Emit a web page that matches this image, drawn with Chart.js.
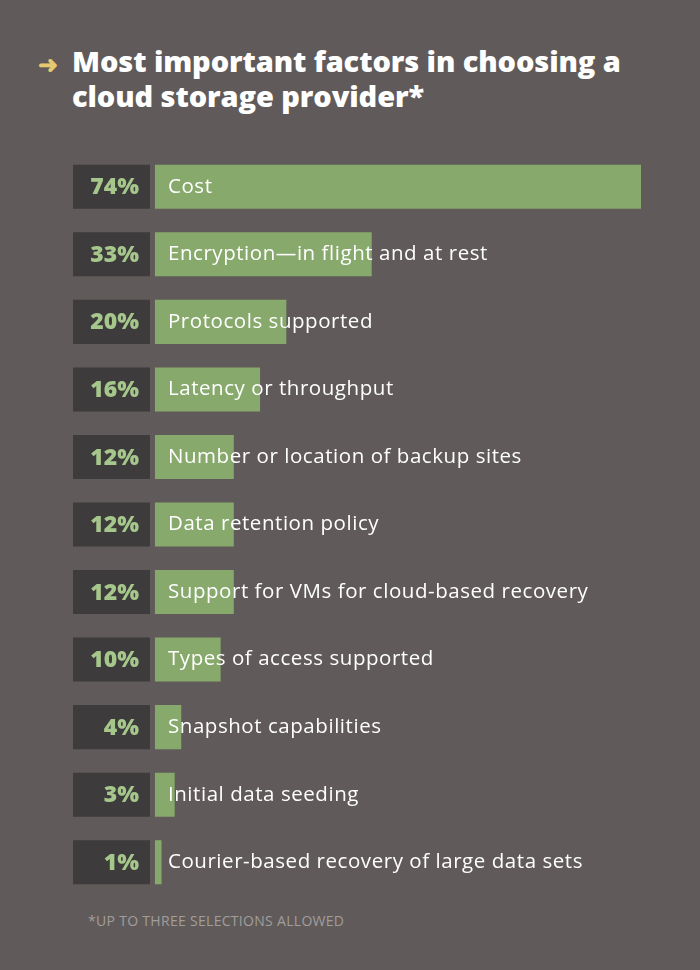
<!DOCTYPE html>
<html>
<head>
<meta charset="utf-8">
<script src="https://cdn.jsdelivr.net/npm/chart.js@4"></script>
<style>
    html, body { margin: 0; padding: 0; }
    body { width: 700px; height: 970px; background: #605b5a; position: relative; overflow: hidden; font-family: "Open Sans", sans-serif; }
    .titre { position: absolute; left: 72px; top: 43px; color: #ffffff; font-weight: 800; font-size: 29px; line-height: 35px; letter-spacing: -0.1px; }
    .fleche { position: absolute; left: 38px; top: 47px; color: #e6c96f; font-size: 24px; font-weight: 700; }
    .graphique { position: absolute; left: 0; top: 153px; width: 700px; height: 743px; }
    .note { position: absolute; left: 88px; top: 911px; color: #a29d9b; font-size: 14px; letter-spacing: 0.3px; }
</style>
</head>
<body>
<div class="fleche">&#10140;</div>
<div class="titre">Most important factors in choosing a<br>cloud storage provider*</div>
<div class="graphique"><canvas id="graphique-facteurs"></canvas></div>
<div class="note">*UP TO THREE SELECTIONS ALLOWED</div>
<script>
// Données
const facteurs = [
    "Cost",
    "Encryption\u2014in flight and at rest",
    "Protocols supported",
    "Latency or throughput",
    "Number or location of backup sites",
    "Data retention policy",
    "Support for VMs for cloud-based recovery",
    "Types of access supported",
    "Snapshot capabilities",
    "Initial data seeding",
    "Courier-based recovery of large data sets"
];
const pourcentages = [74, 33, 20, 16, 12, 12, 12, 10, 4, 3, 1];
const etiquettes = ["74%", "33%", "20%", "16%", "12%", "12%", "12%", "10%", "4%", "3%", "1%"];

// Case sombre à gauche de chaque barre (barre flottante)
const caseDebut = -12.48;
const caseFin = -0.76;
const cases = facteurs.map(() => [caseDebut, caseFin]);

const pluginTextes = {
    id: "textes",
    afterDatasetsDraw(chart){
        const ctx = chart.ctx;
        const metaCases = chart.getDatasetMeta(0);
        const metaBarres = chart.getDatasetMeta(1);
        ctx.save();
        ctx.textBaseline = "middle";
        for(let i = 0; i < facteurs.length; i++){
            const c = metaCases.data[i];
            const b = metaBarres.data[i];
            const droite = Math.max(c.x, c.base);
            ctx.letterSpacing = "0px";
            ctx.font = "800 23px 'Open Sans', sans-serif";
            ctx.fillStyle = "#a6c78c";
            ctx.textAlign = "right";
            ctx.fillText(etiquettes[i], droite - 11, c.y + 1);
            ctx.letterSpacing = "0.55px";
            ctx.font = "400 20.5px 'Open Sans', sans-serif";
            ctx.fillStyle = "#ffffff";
            ctx.textAlign = "left";
            ctx.fillText(facteurs[i], b.base + 13, b.y);
        }
        ctx.restore();
    }
};

const data = {
    labels: facteurs,
    datasets: [
        {
            data: cases,
            backgroundColor: "#3d3b3b",
            grouped: false
        },
        {
            data: pourcentages,
            backgroundColor: "#87a96b",
            grouped: false
        }
    ]
};

new Chart(document.querySelector("#graphique-facteurs"), {
    type: "bar",
    data: data,
    options: {
        indexAxis: "y",
        responsive: true,
        maintainAspectRatio: false,
        animation: false,
        layout: { padding: { left: 73, right: 59, top: 0, bottom: 0 } },
        datasets: { bar: { barPercentage: 1, categoryPercentage: 0.652 } },
        plugins: { legend: { display: false }, tooltip: { enabled: false } },
        scales: {
            x: { display: false, min: caseDebut, max: 74 },
            y: { display: false }
        }
    },
    plugins: [pluginTextes]
});
</script>
</body>
</html>
